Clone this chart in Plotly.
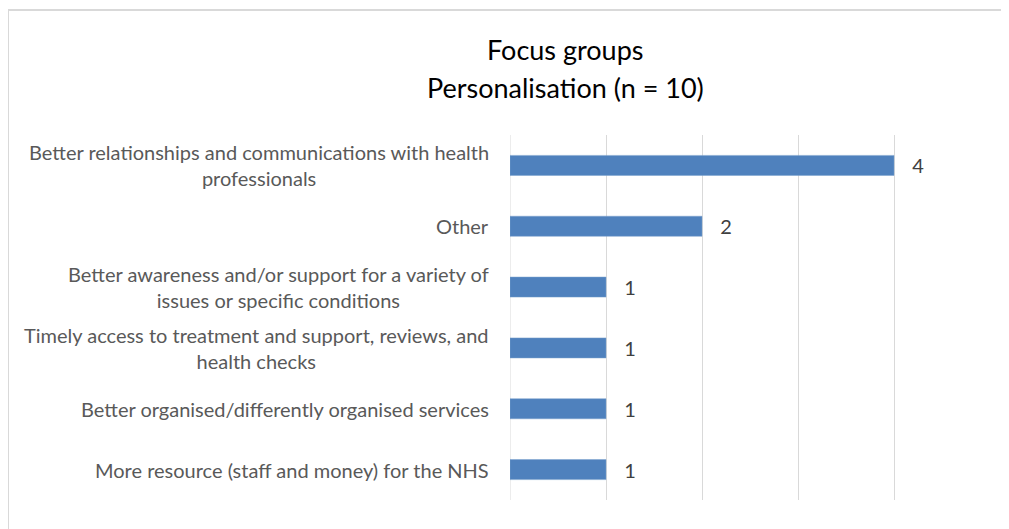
import plotly.graph_objects as go

categories = [
    "Better relationships and communications with health<br>professionals",
    "Other",
    "Better awareness and/or support for a variety of<br>issues or specific conditions",
    "Timely access to treatment and support, reviews, and<br>health checks",
    "Better organised/differently organised services",
    "More resource (staff and money) for the NHS",
]
values = [4, 2, 1, 1, 1, 1]
title_lines = ["Focus groups", "Personalisation (n = 10)"]

FONT = "Lato, 'Open Sans', sans-serif"
OFF = 8  # page offset of the plot div
W, H = 1009 - OFF, 529 - OFF
L, R, T, B = 510 - OFF, 990 - OFF, 135 - OFF, 500 - OFF

cats_rev = categories[::-1]
vals_rev = values[::-1]

fig = go.Figure(go.Bar(
    x=vals_rev, y=list(range(len(cats_rev))), orientation="h",
    marker=dict(color="#4F81BD", line=dict(color="#7BA0CD", width=0.5)),
    width=0.33,
    text=vals_rev, texttemplate="   %{x}", textposition="outside",
    constraintext="none",
    textfont=dict(family=FONT, size=20, color="#404040"),
    cliponaxis=False, hoverinfo="skip",
))

annotations = []
for i, c in enumerate(cats_rev):
    annotations.append(dict(
        x=0, y=i, xref="x", yref="y", text=c, showarrow=False,
        xanchor="right", yanchor="middle", align="center", xshift=-19,
        font=dict(family=FONT, size=20, color="#595959"),
    ))

pw, ph = R - L, B - T
def px_x(x):
    return (x - OFF - L) / pw
def px_y(y):
    return (B - (y - OFF)) / ph

for t, ypx in zip(title_lines, [50, 87]):
    annotations.append(dict(
        x=px_x(565), y=px_y(ypx), xref="paper", yref="paper", text=t,
        showarrow=False, xanchor="center", yanchor="middle",
        font=dict(family=FONT, size=27, color="#000000"),
    ))

fig.update_layout(
    width=W, height=H,
    margin=dict(l=L, r=W - R, t=T, b=H - B, pad=0),
    paper_bgcolor="white", plot_bgcolor="white",
    showlegend=False,
    xaxis=dict(range=[0, 5], dtick=1, showgrid=True, gridcolor="#D9D9D9", gridwidth=1,
               zeroline=False, showticklabels=False, showline=False, ticks="",
               fixedrange=True),
    yaxis=dict(range=[-0.5, len(cats_rev) - 0.5], showticklabels=False, showgrid=False,
               zeroline=False, showline=False, ticks="", fixedrange=True),
    annotations=annotations,
    shapes=[dict(type="rect", xref="paper", yref="paper",
                 x0=px_x(8), x1=px_x(1015), y0=px_y(540), y1=px_y(10),
                 line=dict(color="#D9D9D9", width=2), fillcolor="rgba(0,0,0,0)", layer="below")],
)
fig.add_shape(type="line", xref="x", yref="paper", x0=0, x1=0, y0=0, y1=1,
              line=dict(color="#D9D9D9", width=1), layer="below")

fig.write_html("out.html")
